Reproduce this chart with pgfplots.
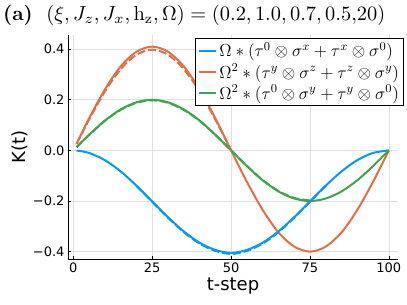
\RequirePackage{fix-cm}
\documentclass[border=0pt]{standalone}
\usepackage{graphicx}
\usepackage{pgfplots}
\pgfplotsset{compat=1.18}
\usepackage{fontspec}
\setsansfont{DejaVu Sans}
\definecolor{jblue}{RGB}{0,154,250}
\definecolor{jorange}{RGB}{227,111,71}
\definecolor{jgreen}{RGB}{62,164,78}
\newcommand{\lgd}[1]{\scalebox{1.24}{#1}}
\begin{document}
\begin{tikzpicture}
\path[use as bounding box] (0,0) rectangle (407pt,305pt);
\node[anchor=west,inner sep=0pt] at (3pt,290pt) {\resizebox{382pt}{!}{\textbf{(a)}\ \ $(\xi, J_z, J_x, \mathrm{h_z}, \Omega) = (0.2, 1.0, 0.7, 0.5{,}20)$}};
\begin{axis}[
  at={(68pt,46pt)}, anchor=south west,
  scale only axis, width=330pt, height=224pt,
  xmin=-1.7, xmax=102.9, ymin=-0.429, ymax=0.456,
  axis x line*=bottom, axis y line*=left,
  axis line style={-, black, line width=0.8pt},
  xtick={0,25,50,75,100},
  ytick={-0.4,-0.2,0,0.2,0.4},
  yticklabels={−0.4,−0.2,0.0,0.2,0.4},
  tick label style={font=\sffamily\fontsize{13}{15}\selectfont},
  /pgf/number format/assume math mode=true,
  tick align=inside, major tick length=3pt,
  tick style={black, line width=0.6pt},
  grid=major, major grid style={black!12, line width=0.7pt},
  xlabel={t-step}, ylabel={K(t)},
  label style={font=\sffamily\fontsize{18}{20}\selectfont},
  xlabel style={yshift=1pt},
  ylabel style={yshift=-2pt},
  legend style={at={(1.018,0.987)}, anchor=north east, draw=black, line width=0.8pt,
    font=\fontsize{14}{16}\selectfont, fill=white, row sep=1.5pt, inner sep=2.5pt},
  legend cell align=left,
  every axis plot/.append style={line width=2pt},
]
\addplot[jblue, smooth] coordinates {
(1,-0.0004) (5,-0.0099) (10,-0.0385) (15,-0.0830) (20,-0.1392) (25,-0.2015) (30,-0.2638) (35,-0.3200) (40,-0.3645) (45,-0.3932) (50,-0.405) (55,-0.3932) (60,-0.3645) (65,-0.3200) (70,-0.2638) (75,-0.2015) (80,-0.1392) (85,-0.0830) (90,-0.0385) (95,-0.0099) (100,0)};
\addlegendentry{\lgd{$\Omega * (\tau^0 \otimes \sigma^x + \tau^x \otimes \sigma^0)$}}
\addplot[jorange, smooth] coordinates {
(1,0.026) (5,0.127) (10,0.241) (15,0.332) (20,0.390) (25,0.410) (30,0.390) (35,0.332) (40,0.241) (45,0.127) (50,0) (55,-0.124) (60,-0.235) (65,-0.324) (70,-0.380) (75,-0.400) (80,-0.380) (85,-0.324) (90,-0.235) (95,-0.124) (100,0)};
\addlegendentry{\lgd{$\Omega^2 * (\tau^y \otimes \sigma^z + \tau^z \otimes \sigma^y)$}}
\addplot[jgreen, smooth] coordinates {
(1,0.013) (5,0.062) (10,0.118) (15,0.162) (20,0.190) (25,0.200) (30,0.190) (35,0.162) (40,0.118) (45,0.062) (50,0) (55,-0.062) (60,-0.118) (65,-0.162) (70,-0.190) (75,-0.200) (80,-0.190) (85,-0.162) (90,-0.118) (95,-0.062) (100,0)};
\addlegendentry{\lgd{$\Omega^2 * (\tau^0 \otimes \sigma^y + \tau^y \otimes \sigma^0)$}}
\addplot[jorange, smooth, dashed, dash pattern=on 8pt off 3pt, forget plot] coordinates {
(1,0.025) (5,0.122) (10,0.233) (15,0.321) (20,0.378) (25,0.398) (30,0.378) (35,0.321) (40,0.233) (45,0.122) (50,0)};
\addplot[jgreen, smooth, dashed, dash pattern=on 8pt off 3pt, forget plot] coordinates {
(1,0.013) (5,0.061) (10,0.117) (15,0.160) (20,0.188) (25,0.198) (30,0.188) (35,0.160) (40,0.117) (45,0.061) (50,0) (55,-0.061) (60,-0.117) (65,-0.160) (70,-0.188) (75,-0.198)};
\addplot[jblue, smooth, dashed, dash pattern=on 8pt off 3pt, forget plot] coordinates {
(20,-0.1400) (25,-0.2030) (30,-0.2660) (35,-0.3230) (40,-0.3680) (45,-0.3970) (50,-0.409) (55,-0.3970) (60,-0.3680) (65,-0.3230) (70,-0.2660) (75,-0.2030) (80,-0.1400)};
\end{axis}
\end{tikzpicture}
\end{document}
